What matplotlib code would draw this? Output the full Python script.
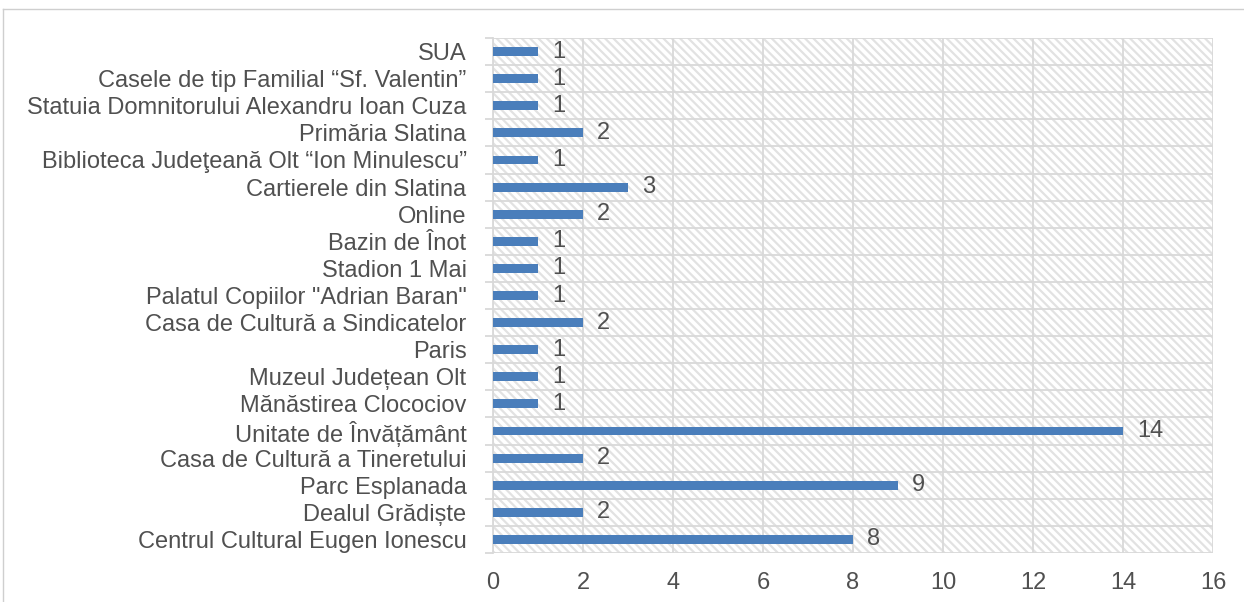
import matplotlib.pyplot as plt
from matplotlib.patches import Rectangle
from matplotlib.lines import Line2D

# categories listed bottom to top
locations = [
    'Centrul Cultural Eugen Ionescu',
    'Dealul Grădiște',
    'Parc Esplanada',
    'Casa de Cultură a Tineretului',
    'Unitate de Învățământ',
    'Mănăstirea Clocociov',
    'Muzeul Județean Olt',
    'Paris',
    'Casa de Cultură a Sindicatelor',
    'Palatul Copiilor "Adrian Baran"',
    'Stadion 1 Mai',
    'Bazin de Înot',
    'Online',
    'Cartierele din Slatina',
    'Biblioteca Judeţeană Olt “Ion Minulescu”',
    'Primăria Slatina',
    'Statuia Domnitorului Alexandru Ioan Cuza',
    'Casele de tip Familial “Sf. Valentin”',
    'SUA',
]
counts = [8, 2, 9, 2, 14, 1, 1, 1, 2, 1, 1, 1, 2, 3, 1, 2, 1, 1, 1]
xticks = [0, 2, 4, 6, 8, 10, 12, 14, 16]

plt.rcParams['font.family'] = ['Liberation Sans', 'DejaVu Sans']
plt.rcParams['hatch.linewidth'] = 1.6
plt.rcParams['hatch.color'] = '#e2e2e2'

text_color = '#505050'
grid_color = '#d9d9d9'
fs = 17

fig = plt.figure(figsize=(12.44, 6.02), dpi=100)
ax = fig.add_axes([493 / 1244, 1 - 553 / 602, 720 / 1244, 515 / 602])

# hatched background
bg = Rectangle((0, 0), 1, 1, transform=ax.transAxes, facecolor='white',
               edgecolor='#e2e2e2', hatch='\\\\\\\\', linewidth=0, zorder=0)
ax.add_patch(bg)

y = list(range(len(locations)))
ax.barh(y, counts, height=0.33, color='#4a7ebb', zorder=3)

for yi, v in zip(y, counts):
    ax.annotate(str(v), (v, yi), xytext=(10, 0), textcoords='offset points',
                va='center', ha='left', fontsize=fs, color=text_color, zorder=4)

ax.set_xlim(0, 16)
ax.set_ylim(-0.5, len(locations) - 0.5)
ax.set_xticks(xticks)
ax.set_yticks(y)
ax.set_yticklabels(locations)
ax.set_yticks([i - 0.5 for i in range(len(locations) + 1)], minor=True)

ax.tick_params(axis='x', length=0, pad=14, labelsize=fs, labelcolor=text_color)
ax.tick_params(axis='y', which='major', length=0, pad=19, labelsize=fs,
               labelcolor=text_color)
ax.tick_params(axis='y', which='minor', length=6, color=grid_color, width=1.3)

ax.grid(axis='x', which='major', color=grid_color, linewidth=1.3, zorder=1)
ax.grid(axis='y', which='minor', color=grid_color, linewidth=1.3, zorder=1)
ax.set_axisbelow(True)

for s in ['top', 'right', 'bottom']:
    ax.spines[s].set_visible(False)
ax.spines['left'].set_color(grid_color)
ax.spines['left'].set_linewidth(1.3)
ax.spines['left'].set_zorder(2)

# outer frame
x0 = 3 / 1244
y0 = 1 - 9 / 602
fig.add_artist(Line2D([x0, 1], [y0, y0], color='#cfcfcf', linewidth=1))
fig.add_artist(Line2D([x0, x0], [0, y0], color='#cfcfcf', linewidth=1))

fig.savefig('out.png', dpi=100)
